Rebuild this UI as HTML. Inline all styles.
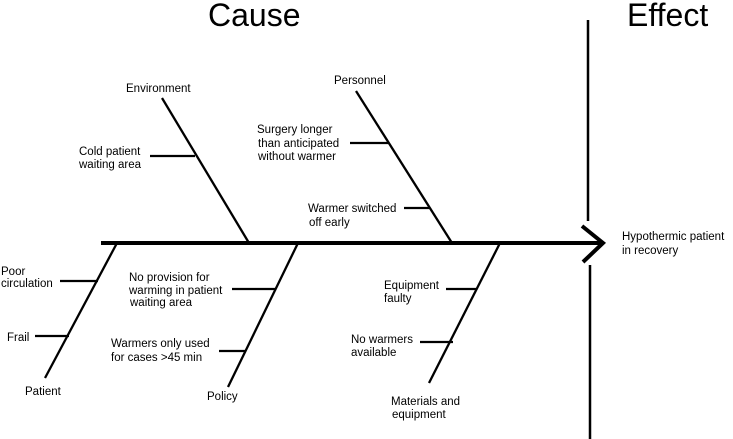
<!DOCTYPE html>
<html><head><style>
body{margin:0;background:#fff}
svg{display:block}
text{font-family:"Liberation Sans",Arial,sans-serif;font-size:11.5px;fill:#000}
</style></head><body>
<svg width="733" height="439" viewBox="0 0 733 439">
<g stroke="#000" fill="none" stroke-linecap="butt">
<line x1="101" y1="243" x2="602" y2="243" stroke-width="4"/>
<polyline points="582,226 603,243 583,262" stroke-width="4"/>
<line x1="588" y1="20" x2="588" y2="221" stroke-width="2.5"/>
<line x1="590" y1="265" x2="590" y2="439" stroke-width="2.5"/>
<g stroke-width="2.3">
<line x1="162" y1="98" x2="249" y2="243"/>
<line x1="150" y1="156" x2="195" y2="156"/>
<line x1="356" y1="91" x2="452" y2="243"/>
<line x1="350" y1="143" x2="389" y2="143"/>
<line x1="404" y1="208" x2="430" y2="208"/>
<line x1="117" y1="243" x2="45" y2="378"/>
<line x1="60" y1="281" x2="98" y2="281"/>
<line x1="35" y1="336" x2="69" y2="336"/>
<line x1="298" y1="243" x2="228" y2="387"/>
<line x1="232" y1="289" x2="275" y2="289"/>
<line x1="219" y1="351" x2="245" y2="351"/>
<line x1="500" y1="243" x2="429" y2="383"/>
<line x1="446" y1="289" x2="477" y2="289"/>
<line x1="420" y1="342" x2="453" y2="342"/>
</g></g>
<text x="208" y="26" style="font-size:32px">Cause</text>
<text x="627" y="26" style="font-size:32px">Effect</text>
<text x="126" y="92">Environment</text>
<text x="79" y="155">Cold patient</text>
<text x="79" y="168">waiting area</text>
<text x="334" y="84">Personnel</text>
<text x="257" y="133">Surgery longer</text>
<text x="258" y="147">than anticipated</text>
<text x="258" y="160">without warmer</text>
<text x="308" y="212">Warmer switched</text>
<text x="309" y="226">off early</text>
<text x="622" y="240">Hypothermic patient</text>
<text x="622" y="254">in recovery</text>
<text x="1" y="275">Poor</text>
<text x="1" y="287">circulation</text>
<text x="7" y="341">Frail</text>
<text x="25" y="395">Patient</text>
<text x="129" y="281">No provision for</text>
<text x="129" y="294">warming in patient</text>
<text x="130" y="306">waiting area</text>
<text x="111" y="347">Warmers only used</text>
<text x="111" y="361">for cases &gt;45 min</text>
<text x="207" y="400">Policy</text>
<text x="384" y="289">Equipment</text>
<text x="384" y="302">faulty</text>
<text x="351" y="343">No warmers</text>
<text x="351" y="356">available</text>
<text x="391" y="405">Materials and</text>
<text x="392" y="418">equipment</text>
</svg>
</body></html>
